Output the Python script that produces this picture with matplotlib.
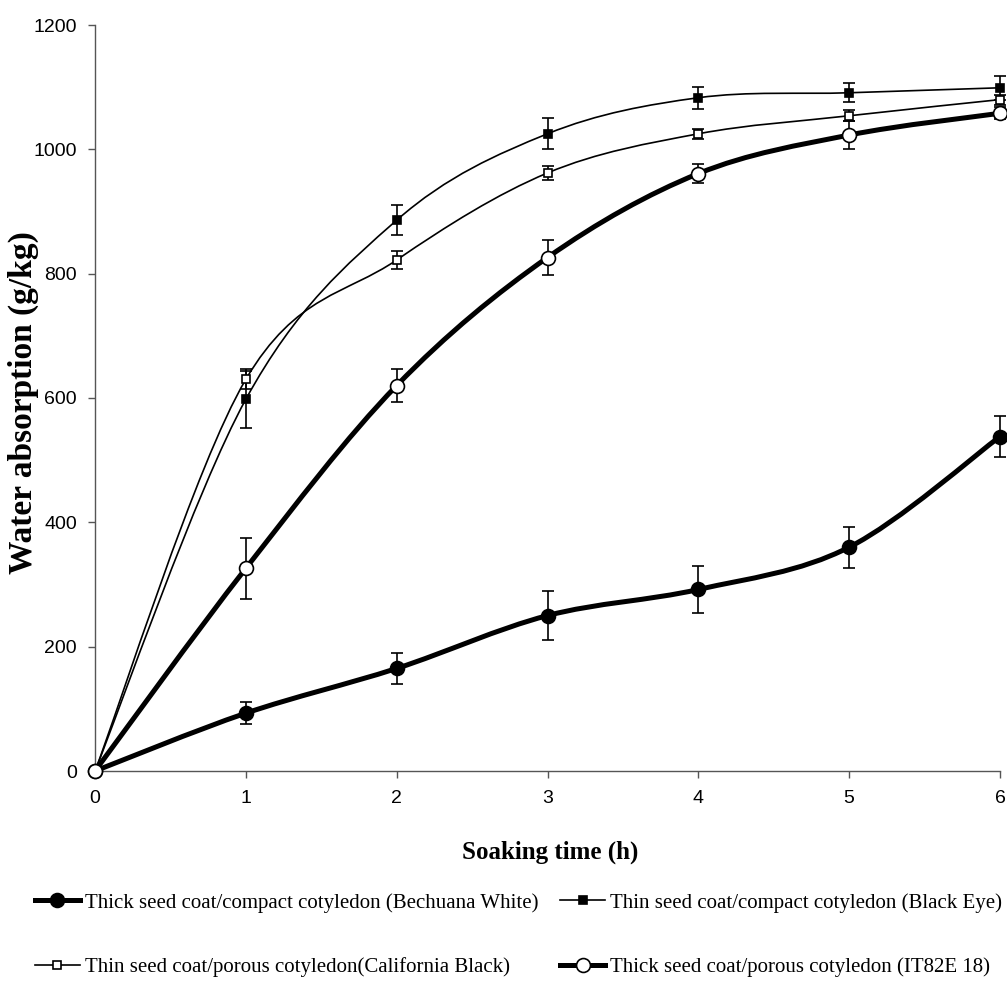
import numpy as np
import matplotlib
matplotlib.use('Agg')
import matplotlib.pyplot as plt
from matplotlib.path import Path
from matplotlib.patches import PathPatch
from matplotlib.lines import Line2D

# soaking time (h)
hours = [0, 1, 2, 3, 4, 5, 6]

# water absorption (g/kg) and error bars
bechuana = [0, 93, 165, 250, 292, 360, 538]
bechuana_err = [0, 18, 25, 40, 38, 33, 33]
black_eye = [0, 598, 886, 1025, 1083, 1091, 1099]
black_eye_err = [0, 46, 24, 25, 18, 15, 19]
california = [0, 630, 822, 962, 1025, 1054, 1080]
california_err = [0, 16, 14, 11, 8, 9, 8]
it82e = [0, 326, 620, 826, 961, 1023, 1058]
it82e_err = [0, 49, 27, 28, 15, 22, 10]

labels = ['Thick seed coat/compact cotyledon (Bechuana White)',
          'Thin seed coat/compact cotyledon (Black Eye)',
          'Thin seed coat/porous cotyledon(California Black)',
          'Thick seed coat/porous cotyledon (IT82E 18)']

TICKFONT = ['Liberation Sans Narrow', 'Liberation Sans', 'DejaVu Sans']
SERIF = ['Liberation Serif', 'DejaVu Serif']


def smooth_path(x, y):
    # excel-like smoothed line: catmull-rom turned into cubic beziers
    pts = np.column_stack([x, y]).astype(float)
    n = len(pts)
    verts = [pts[0]]
    codes = [Path.MOVETO]
    for i in range(n - 1):
        p0 = pts[max(i - 1, 0)]
        p1 = pts[i]
        p2 = pts[i + 1]
        p3 = pts[min(i + 2, n - 1)]
        verts += [p1 + (p2 - p0) / 6, p2 - (p3 - p1) / 6, p2]
        codes += [Path.CURVE4] * 3
    return Path(verts, codes)


fig = plt.figure(figsize=(10.07, 9.92), dpi=100)
ax = fig.add_axes([95 / 1007, 221 / 992, 905 / 1007, 746 / 992])

series = [
    (bechuana, bechuana_err, 3.6, 'o', 10, 'black'),
    (black_eye, black_eye_err, 1.2, 's', 6, 'black'),
    (california, california_err, 1.2, 's', 6, 'white'),
    (it82e, it82e_err, 3.6, 'o', 10, 'white'),
]

handles = []
for k, (vals, err, lw, mk, ms, fc) in enumerate(series):
    z = 3 + k
    ax.add_patch(PathPatch(smooth_path(hours, vals), fill=False, edgecolor='black',
                           lw=lw, zorder=z, capstyle='round', joinstyle='round'))
    ax.errorbar(hours, vals, yerr=err, fmt=mk, ms=ms, mfc=fc, mec='black', mew=1.2,
                ecolor='black', elinewidth=1.2, capsize=4.5, capthick=1.2,
                zorder=z, clip_on=False)
    handles.append(Line2D([], [], color='black', lw=lw, marker=mk, ms=ms,
                          mfc=fc, mec='black', mew=1.2))

ax.set_xlim(0, 6)
ax.set_ylim(0, 1200)
ax.set_xticks(hours)
ax.set_yticks(range(0, 1201, 200))
for s in ['top', 'right']:
    ax.spines[s].set_visible(False)
for s in ['left', 'bottom']:
    ax.spines[s].set_color('#555555')
    ax.spines[s].set_linewidth(1.0)
ax.tick_params(direction='out', length=5, width=1, color='#555555', labelsize=14)
ax.tick_params(axis='x', pad=9)
ax.tick_params(axis='y', pad=8)
for t in ax.get_xticklabels() + ax.get_yticklabels():
    t.set_family(TICKFONT)

fig.text(23 / 1007, 1 - 403 / 992, 'Water absorption (g/kg)', rotation=90,
         ha='center', va='center', family=SERIF, weight='bold', fontsize=24)
fig.text(550 / 1007, 1 - 852 / 992, 'Soaking time (h)', ha='center', va='center',
         family=SERIF, weight='bold', fontsize=18)

order = [0, 2, 1, 3]
fig.legend([handles[i] for i in order], [labels[i] for i in order],
           ncol=2, loc='upper left', bbox_to_anchor=(35 / 1007, 1 - 893 / 992),
           frameon=False, numpoints=1, prop={'family': SERIF, 'size': 15},
           handlelength=2.15, handletextpad=0.25, columnspacing=1.05,
           labelspacing=2.15, borderpad=0, borderaxespad=0)

fig.savefig('out.png', dpi=100)
